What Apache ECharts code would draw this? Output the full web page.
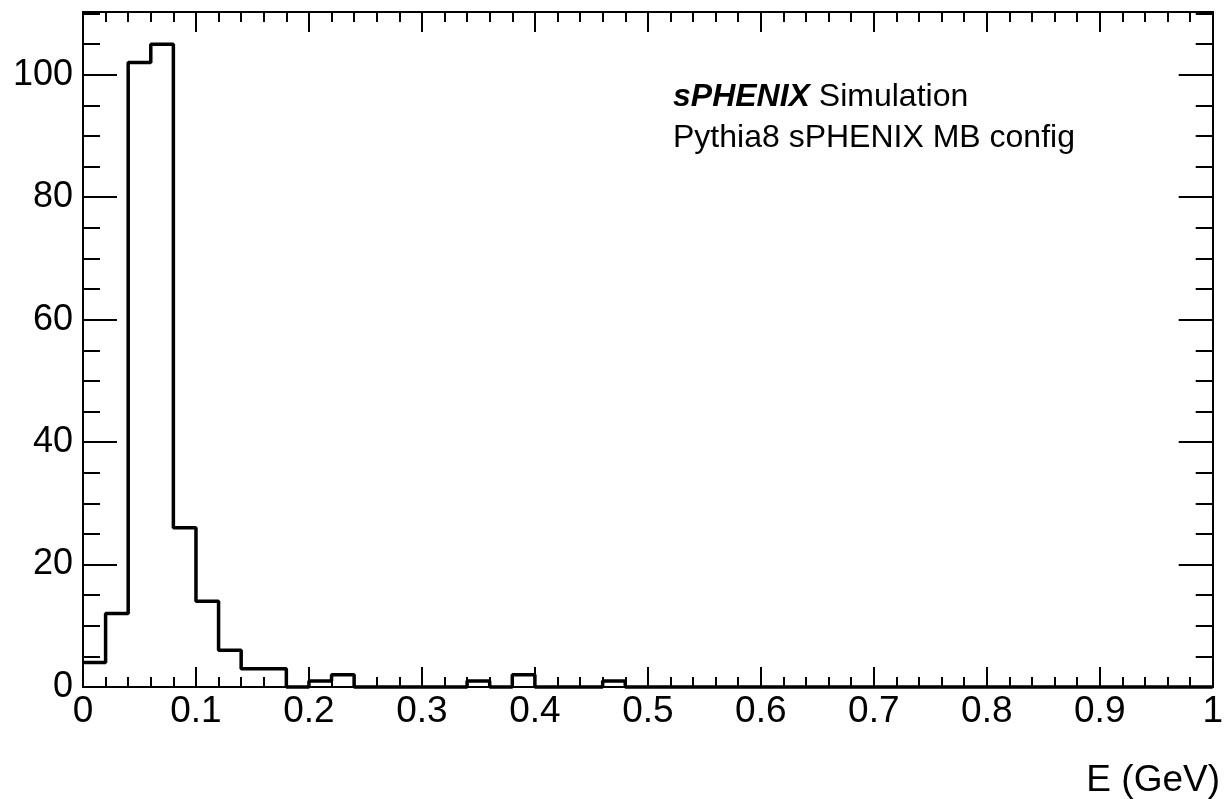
<!DOCTYPE html>
<html>
<head>
<meta charset="utf-8">
<title>sPHENIX E</title>
<script src="https://cdn.jsdelivr.net/npm/echarts@6/dist/echarts.min.js"></script>
<style>
  html, body { margin: 0; padding: 0; background: #fff; }
  #main { width: 1226px; height: 799px; }
</style>
</head>
<body>
<div id="main"></div>
<script>
// histogram: 50 bins of 0.02 GeV from 0 to 1
var binLow = 0;
var binWidth = 0.02;
var counts = [
  4, 12, 102, 105, 26, 14, 6, 3, 3, 0,
  1, 2, 0, 0, 0, 0, 0, 1, 0, 2,
  0, 0, 0, 1, 0, 0, 0, 0, 0, 0,
  0, 0, 0, 0, 0, 0, 0, 0, 0, 0,
  0, 0, 0, 0, 0, 0, 0, 0, 0, 0
];
var xRange = [0, 1];
var yRange = [0, 110.25];
var labelLines = ['sPHENIX', 'Simulation', 'Pythia8 sPHENIX MB config'];
var xTitle = 'E (GeV)';

var FONT = '"Liberation Sans", Arial, Helvetica, sans-serif';

// step points: left edge of every bin, plus the last right edge
var stepData = counts.map(function (c, i) {
  return [+(binLow + i * binWidth).toFixed(4), c];
});
stepData.push([+(binLow + counts.length * binWidth).toFixed(4), counts[counts.length - 1]]);

var black = '#000';
function xAx(pos, labels) {
  return {
    type: 'value', position: pos, min: xRange[0], max: xRange[1], interval: 0.1,
    axisLine: { show: true, onZero: false, lineStyle: { color: black, width: 2 } },
    axisTick: { show: true, inside: true, length: 20, lineStyle: { color: black, width: 2 } },
    minorTick: { show: true, splitNumber: 5, length: 10, lineStyle: { color: black, width: 2 } },
    axisLabel: { show: labels, color: black, fontSize: 37, fontFamily: FONT, margin: 6 },
    splitLine: { show: false }, minorSplitLine: { show: false }
  };
}
function yAx(pos, interval, len, labels) {
  return {
    type: 'value', position: pos, min: yRange[0], max: yRange[1], interval: interval,
    axisLine: { show: true, onZero: false, lineStyle: { color: black, width: 2 } },
    axisTick: { show: true, inside: true, length: len, lineStyle: { color: black, width: 2 } },
    axisLabel: {
      show: labels, color: black, fontSize: 36, fontFamily: FONT, margin: 10,
      formatter: function (v) { return v % 20 === 0 ? String(v) : ''; }
    },
    splitLine: { show: false }
  };
}

var myChart = echarts.init(document.getElementById('main'), null, { renderer: 'canvas' });
var option = {
  backgroundColor: '#fff',
  animation: false,
  grid: { left: 83, right: 7, top: 12, bottom: 112, containLabel: false },
  xAxis: [xAx('bottom', true), xAx('top', false)],
  yAxis: [
    yAx('left', 20, 34, true),
    yAx('left', 5, 17, false),
    yAx('right', 20, 34, false),
    yAx('right', 5, 17, false)
  ],
  series: [{
    type: 'line',
    step: 'end',
    xAxisIndex: 0,
    yAxisIndex: 0,
    data: stepData,
    showSymbol: false,
    symbol: 'none',
    clip: false,
    lineStyle: { color: black, width: 3.5 },
    z: 5
  }],
  graphic: [
    {
      type: 'text', left: 673, top: 81,
      style: {
        text: '{b|' + labelLines[0] + '} ' + labelLines[1],
        font: '32px ' + FONT, fill: black,
        rich: { b: { fontSize: 32, fontWeight: 'bold', fontStyle: 'italic', fontFamily: FONT, fill: black } }
      }
    },
    {
      type: 'text', left: 673, top: 122,
      style: { text: labelLines[2], font: '32px ' + FONT, fill: black }
    },
    {
      type: 'text', right: 6, top: 762,
      style: { text: xTitle, font: '37px ' + FONT, fill: black }
    }
  ]
};
myChart.setOption(option);
</script>
</body>
</html>
